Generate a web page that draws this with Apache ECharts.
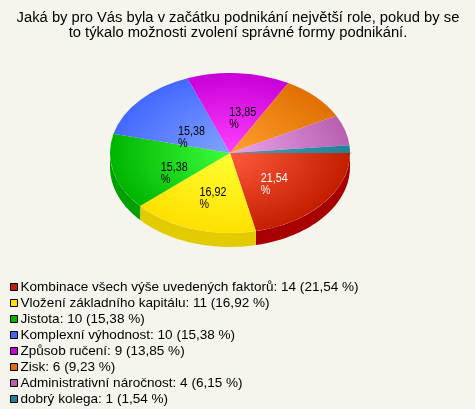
<!DOCTYPE html>
<html><head><meta charset="utf-8">
<style>html,body{margin:0;padding:0;background:#f5f5ee}#c{width:475px;height:409px}</style>
<script src="https://cdn.jsdelivr.net/npm/echarts@6/dist/echarts.min.js"></script>
</head><body><div id="c"></div>
<script>
const categories=["Kombinace všech výše uvedených faktorů","Vložení základního kapitálu","Jistota","Komplexní výhodnost","Způsob ručení","Zisk","Administrativní náročnost","dobrý kolega"];
const counts=[14,11,10,10,9,6,4,1];
const percentText=["21,54","16,92","15,38","15,38","13,85","9,23","6,15","1,54"];
const edgeColors=["#c41e00","#ffe000","#00b400","#4468ff","#c800d8","#e07000","#b860b0","#208098"];
const centerColors=["#ff5a3c","#ffff33","#3cff3c","#80a4ff","#ff40ff","#ffa030","#eca4ec","#40a4c0"];
const sideColors=["#a80000","#e2cc00","#00a000","#3050d0","#a000b0","#b85800","#9050a0","#107080"];
const labelColors=["#fff","#000","#000","#000","#000","#000","#000","#000"];
const labelShiftX=[-4,0,1,5,7,0,0,0];
const labelShiftY=[-2,0,3,3,-3,0,0,0];
const CX=230,CY=153,RX=120,RY=80,DEPTH=14;
const total=counts.reduce((a,b)=>a+b,0);
function render(idx){
  return function(params,api){
    let before=0;for(let i=0;i<idx;i++)before+=counts[i];
    const a0=before/total*Math.PI*2,a1=(before+counts[idx])/total*Math.PI*2;
    const children=[];
    const w0=a0,w1=Math.min(a1,Math.PI);
    if(w0<Math.PI){
      const pts=[];const n=40;
      for(let i=0;i<=n;i++){const t=w0+(w1-w0)*i/n;pts.push([CX+RX*Math.cos(t),CY+RY*Math.sin(t)]);}
      for(let i=n;i>=0;i--){const t=w0+(w1-w0)*i/n;pts.push([CX+RX*Math.cos(t),CY+RY*Math.sin(t)+DEPTH]);}
      children.push({type:'polygon',shape:{points:pts},style:{fill:sideColors[idx]},z2:1});
    }
    children.push({type:'sector',originX:CX,originY:CY,scaleY:RY/RX,
      shape:{cx:CX,cy:CY,r0:0,r:RX,startAngle:a0,endAngle:a1,clockwise:true},
      style:{fill:{type:'radial',x:CX,y:CY,r:RX,global:true,colorStops:[{offset:0,color:centerColors[idx]},{offset:1,color:edgeColors[idx]}]}},z2:2});
    if(counts[idx]/total>0.1){
      const m=(a0+a1)/2;
      children.push({type:'text',scaleX:0.86,x:CX+RX*0.5*Math.cos(m)-12+labelShiftX[idx],y:CY+RY*0.5*Math.sin(m)+8+labelShiftY[idx],
        style:{text:percentText[idx]+"\n%",fill:labelColors[idx],font:'12.5px "Liberation Sans"',lineHeight:12,align:'left',verticalAlign:'middle'},z2:3});
    }
    return {type:'group',children};
  };
}
const chart=echarts.init(document.getElementById('c'),null,{renderer:'canvas'});
chart.setOption({
  backgroundColor:'#f5f5ee',animation:false,
  title:{text:"Jaká by pro Vás byla v začátku podnikání největší role, pokud by se\nto týkalo možnosti zvolení správné formy podnikání.",left:238,top:10,
    textAlign:'center',padding:0,
    textStyle:{fontFamily:'Liberation Sans',fontSize:14.75,fontWeight:'normal',color:'#000',lineHeight:15.5}},
  legend:{orient:'vertical',left:10,top:279,height:130,padding:0,itemWidth:7,itemHeight:7,itemGap:0,icon:'rect',selectedMode:false,
    itemStyle:{borderColor:'#000',borderWidth:1},
    textStyle:{fontFamily:'Liberation Sans',fontSize:13.55,color:'#000',lineHeight:16,padding:[0,0,0,-2]},
    data:categories.map((c,i)=>c+": "+counts[i]+" ("+percentText[i]+" %)")},
  series:categories.map((c,i)=>({type:'custom',name:c+": "+counts[i]+" ("+percentText[i]+" %)",coordinateSystem:'none',
    itemStyle:{color:edgeColors[i]},data:[counts[i]],renderItem:render(i),silent:true}))
});
</script></body></html>
